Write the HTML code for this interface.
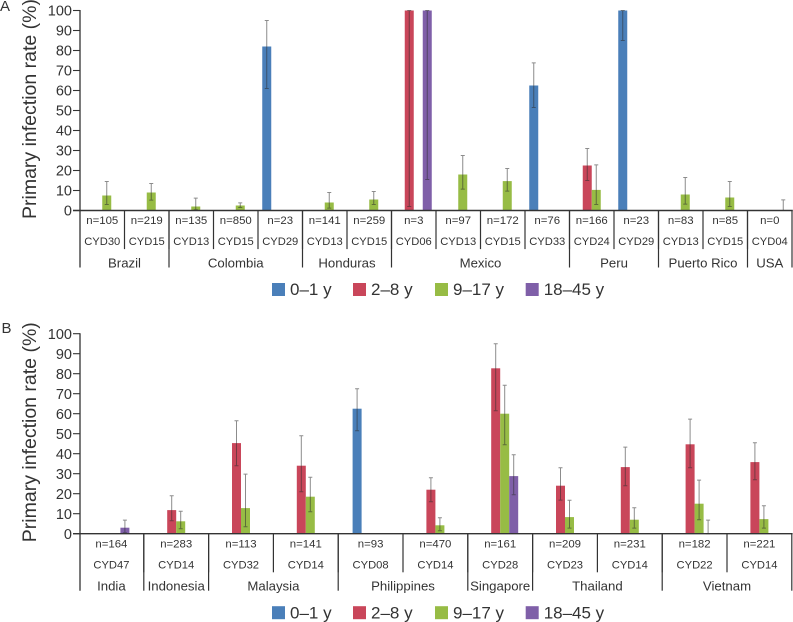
<!DOCTYPE html>
<html lang="en">
<head>
<meta charset="utf-8">
<title>Primary infection rate by country and study</title>
<style>
  html, body { margin: 0; padding: 0; background: #fff; }
  body { width: 793px; height: 622px; overflow: hidden; }
  svg { display: block; font-family: "Liberation Sans", Arial, sans-serif; fill: #333; }
</style>
</head>
<body>
<svg id="chart" width="793" height="622" viewBox="0 0 793 622" xmlns="http://www.w3.org/2000/svg"></svg>
<script>
// ---- Shared data ----
const yTicks = [0, 10, 20, 30, 40, 50, 60, 70, 80, 90, 100];
const ageGroups = ['0–1 y', '2–8 y', '9–17 y', '18–45 y'];
const ageColors = ['#4a7fb9', '#c9465a', '#97bc45', '#7f5fa8'];

// ---- Panel A data ----
const studiesA = ['CYD30','CYD15','CYD13','CYD15','CYD29','CYD13','CYD15','CYD06','CYD13','CYD15','CYD33','CYD24','CYD29','CYD13','CYD15','CYD04'];
const sizesA = ['n=105','n=219','n=135','n=850','n=23','n=141','n=259','n=3','n=97','n=172','n=76','n=166','n=23','n=83','n=85','n=0'];
const countriesA = ['Brazil','Colombia','Honduras','Mexico','Peru','Puerto Rico','USA'];
const countrySpansA = [2, 3, 2, 4, 2, 2, 1];
const infantA   = [null,null,null,null,82,null,null,null,null,null,62.5,null,100,null,null,null];
const infantLoA = [null,null,null,null,61,null,null,null,null,null,51.5,null,85,null,null,null];
const infantHiA = [null,null,null,null,95,null,null,null,null,null,73.8,null,100,null,null,null];
const childA    = [null,null,null,null,null,null,null,100,null,null,null,22.5,null,null,null,null];
const childLoA  = [null,null,null,null,null,null,null,2,null,null,null,15,null,null,null,null];
const childHiA  = [null,null,null,null,null,null,null,100,null,null,null,31,null,null,null,null];
const teenA     = [7.5,9,2,2.5,null,4,5.5,null,18,14.7,null,10.3,null,8,6.5,null];
const teenLoA   = [3,5.2,0.4,1.5,null,1.2,3,null,10.7,9.7,null,3,null,3.2,2,null];
const teenHiA   = [14.5,13.5,6.2,3.8,null,9,9.5,null,27.5,21,null,22.8,null,16.5,14.5,null];
const adultA    = [null,null,null,null,null,null,null,100,null,null,null,null,null,null,null,0];
const adultLoA  = [null,null,null,null,null,null,null,15.5,null,null,null,null,null,null,null,0];
const adultHiA  = [null,null,null,null,null,null,null,100,null,null,null,null,null,null,null,5.3];

// ---- Panel B data ----
const studiesB = ['CYD47','CYD14','CYD32','CYD14','CYD08','CYD14','CYD28','CYD23','CYD14','CYD22','CYD14'];
const sizesB = ['n=164','n=283','n=113','n=141','n=93','n=470','n=161','n=209','n=231','n=182','n=221'];
const countriesB = ['India','Indonesia','Malaysia','Philippines','Singapore','Thailand','Vietnam'];
const countrySpansB = [1, 1, 2, 2, 1, 2, 2];
const infantB   = [null,null,null,null,62.5,null,null,null,null,null,null];
const infantLoB = [null,null,null,null,51.5,null,null,null,null,null,null];
const infantHiB = [null,null,null,null,72.5,null,null,null,null,null,null];
const childB    = [null,11.8,45.3,34,null,22,82.7,24,33.3,44.7,35.8];
const childLoB  = [null,6.5,34,21,null,16,61.5,16.8,24,33,27];
const childHiB  = [null,19,56.5,49,null,28,95,33,43.3,57.3,45.5];
const teenB     = [null,6.2,12.8,18.5,null,4.2,60,8.3,7,15,7.3];
const teenLoB   = [null,2.5,3.5,11,null,1.5,44.5,2.8,2.8,7,2.8];
const teenHiB   = [null,11.2,29.8,28.2,null,8,74.2,16.7,13,26.8,14];
const adultB    = [3,null,null,null,null,null,28.8,null,null,0,null];
const adultLoB  = [0.5,null,null,null,null,null,19.5,null,null,0,null];
const adultHiB  = [6.8,null,null,null,null,null,39.5,null,null,6.8,null];

const SVG_NS = 'http://www.w3.org/2000/svg';
const root = document.getElementById('chart');

function make(tag, attrs, parent, text) {
  const el = document.createElementNS(SVG_NS, tag);
  for (const k in attrs) el.setAttribute(k, attrs[k]);
  if (text !== undefined) el.textContent = text;
  parent.appendChild(el);
  return el;
}

function drawPanel(p) {
  const axisX = 80;
  const barW = 9;
  const pxPerUnit = 2;
  const n = p.studies.length;
  const bandW = (p.bandEnd - p.bandStart) / n;
  const yScale = v => p.y0 - v * pxPerUnit;
  const bandX = i => p.bandStart + i * bandW;
  const barX = (i, s) => bandX(i) + bandW / 2 - barW * 2 + s * barW;

  const g = make('g', {}, root);
  
  

  const letter = make('text', { x: p.letterX, y: p.y0 + p.letterDy, 'font-size': 15 }, g, p.letter);
  
  

  const title = make('text', {
    transform: 'translate(36,' + (p.y0 + 8.5) + ') rotate(-90)',
    'font-size': 19.5
  }, g, 'Primary infection rate (%)');
  
  

  // Bars
  p.series.forEach((s, si) => {
    s.values.forEach((v, i) => {
      if (v === null || v === 0) return;
      const bar = make('rect', {
        x: barX(i, si), y: yScale(v), width: barW, height: p.y0 - yScale(v),
        fill: ageColors[si]
      }, g);
      
      
    });
  });

  // Confidence whiskers
  p.series.forEach((s, si) => {
    s.values.forEach((v, i) => {
      if (v === null) return;
      const cx = barX(i, si) + barW / 2;
      const yHi = yScale(s.hi[i]);
      const yLo = yScale(s.lo[i]);
      const d = 'M' + cx + ' ' + yLo + 'V' + yHi +
                'M' + (cx - 2) + ' ' + yHi + 'H' + (cx + 2) +
                'M' + (cx - 2) + ' ' + yLo + 'H' + (cx + 2);
      const whisker = make('path', { d: d, stroke: 'rgba(45,45,45,0.55)', 'stroke-width': 1, fill: 'none' }, g);
      
      
    });
  });

  // Y axis
  const yAxis = make('line', { x1: axisX, x2: axisX, y1: yScale(100) - 0.5, y2: p.y0 + 57, stroke: '#333', 'stroke-width': 1.3 }, g);
  
  

  yTicks.forEach(t => {
    const tick = make('line', { x1: 73, x2: axisX, y1: yScale(t), y2: yScale(t), stroke: '#333', 'stroke-width': 1.1 }, g);
    
    
    const label = make('text', { x: 72, y: yScale(t) + 5.2, 'font-size': 14.5, 'text-anchor': 'end' }, g, t);
    
    
  });

  // Baseline
  const base = make('line', { x1: 73, x2: p.bandEnd + 0.8, y1: p.y0, y2: p.y0, stroke: '#333', 'stroke-width': 1.4 }, g);
  
  

  // Study labels and sample sizes
  p.studies.forEach((st, i) => {
    const cx = bandX(i) + bandW / 2;
    const size = make('text', { x: cx, y: p.y0 + 13.6, 'font-size': 11.4, 'text-anchor': 'middle' }, g, p.sizes[i]);
    
    
    const study = make('text', { x: cx, y: p.y0 + 34.6, 'font-size': 11.2, 'text-anchor': 'middle' }, g, st);
    
    
    if (i > 0) {
      const sep = make('line', { x1: bandX(i), x2: bandX(i), y1: p.y0, y2: p.y0 + 38.6, stroke: '#333', 'stroke-width': 1.2 }, g);
      
      
    }
  });

  // Countries
  let start = 0;
  p.countries.forEach((c, ci) => {
    const end = start + p.spans[ci];
    const cx = (bandX(start) + bandX(end)) / 2;
    const label = make('text', { x: cx, y: p.y0 + 57, 'font-size': 13.2, 'text-anchor': 'middle' }, g, c);
    
    
    const sep = make('line', { x1: bandX(end), x2: bandX(end), y1: p.y0, y2: p.y0 + 57, stroke: '#333', 'stroke-width': 1.2 }, g);
    
    
    start = end;
  });

  // Legend
  const legendSwatchX = [272, 353, 435, 525.7];
  ageGroups.forEach((label, i) => {
    const entry = make('g', {}, g);
    
    
    make('rect', { x: legendSwatchX[i], y: p.y0 + 72.5, width: 13, height: 13, fill: ageColors[i] }, entry);
    make('text', { x: legendSwatchX[i] + 18, y: p.y0 + 84.7, 'font-size': 17 }, entry, label);
  });
}

drawPanel({
  key: 'a', letter: 'A', letterX: 0, letterDy: -199.5,
  y0: 210.5, bandStart: 80, bandEnd: 792,
  studies: studiesA, sizes: sizesA, countries: countriesA, spans: countrySpansA,
  series: [
    { values: infantA, lo: infantLoA, hi: infantHiA },
    { values: childA,  lo: childLoA,  hi: childHiA },
    { values: teenA,   lo: teenLoA,   hi: teenHiA },
    { values: adultA,  lo: adultLoA,  hi: adultHiA }
  ]
});

drawPanel({
  key: 'b', letter: 'B', letterX: 1.5, letterDy: -200.5,
  y0: 533.7, bandStart: 79, bandEnd: 791.8,
  studies: studiesB, sizes: sizesB, countries: countriesB, spans: countrySpansB,
  series: [
    { values: infantB, lo: infantLoB, hi: infantHiB },
    { values: childB,  lo: childLoB,  hi: childHiB },
    { values: teenB,   lo: teenLoB,   hi: teenHiB },
    { values: adultB,  lo: adultLoB,  hi: adultHiB }
  ]
});
</script>
</body>
</html>
